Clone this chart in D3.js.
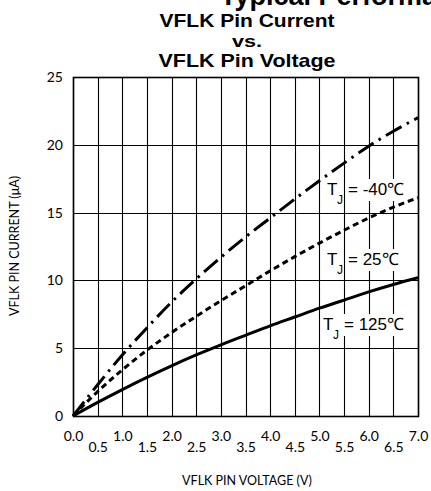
<!DOCTYPE html>
<html>
<head>
<meta charset="utf-8">
<script src="https://cdn.jsdelivr.net/npm/d3@7"></script>
<style>
html,body{margin:0;padding:0;background:#fff;}
svg{display:block;}
</style>
</head>
<body>
<svg id="chart" width="431" height="491"></svg>
<script>
// ---- data ----
const voltages = [0, 0.5, 1.0, 1.5, 2.0, 2.5, 3.0, 3.5, 4.0, 4.5, 5.0, 5.5, 6.0, 6.5, 7.0];
const currentM40 = [0, 2.3, 4.5, 6.5, 8.4, 10.1, 11.7, 13.2, 14.6, 16.0, 17.35, 18.65, 19.9, 21.0, 22.0];
const current25  = [0, 1.8, 3.4, 4.85, 6.15, 7.35, 8.5, 9.6, 10.7, 11.75, 12.75, 13.7, 14.6, 15.4, 16.1];
const current125 = [0, 1.0, 1.95, 2.85, 3.7, 4.5, 5.25, 5.95, 6.65, 7.3, 7.95, 8.55, 9.15, 9.7, 10.2];
const xTickLabels = ["0.0","0.5","1.0","1.5","2.0","2.5","3.0","3.5","4.0","4.5","5.0","5.5","6.0","6.5","7.0"];
const yTicks = [0, 5, 10, 15, 20, 25];
const seriesNames = ["-40℃", "25℃", "125℃"];

const svg = d3.select("#chart");
const x = d3.scaleLinear().domain([0, 7]).range([73, 418]);
const y = d3.scaleLinear().domain([0, 25]).range([416, 77]);

// titles
const titleFont = "Liberation Sans, Arial, sans-serif";
svg.append("text").attr("x", 220).attr("y", 5)
  .attr("font-family", titleFont).attr("font-weight", "bold")
  .attr("font-size", 27).text("Typical Performance Characteristics");
[["VFLK Pin Current", 27, 175, 18.5], ["vs.", 47, 30, 16], ["VFLK Pin Voltage", 67, 177, 18.5]].forEach(([t, yy, w, fs]) => {
  svg.append("text").attr("x", 247).attr("y", yy).attr("text-anchor", "middle")
    .attr("font-family", titleFont).attr("font-weight", "bold").attr("font-size", fs)
    .attr("textLength", w).attr("lengthAdjust", "spacingAndGlyphs").text(t);
});

// grid
const grid = svg.append("g");
grid.selectAll("line.v").data(voltages).join("line")
  .attr("x1", d => Math.round(x(d)) + 0.5).attr("x2", d => Math.round(x(d)) + 0.5)
  .attr("y1", y(25)).attr("y2", y(0))
  .attr("stroke", "#000").attr("stroke-width", 1.1);
grid.selectAll("line.h").data(yTicks).join("line")
  .attr("y1", d => Math.round(y(d)) + 0.5).attr("y2", d => Math.round(y(d)) + 0.5)
  .attr("x1", x(0)).attr("x2", x(7))
  .attr("stroke", "#000").attr("stroke-width", 1.1);
svg.append("rect").attr("x", Math.round(x(0)) + 0.5).attr("y", Math.round(y(25)) + 0.5)
  .attr("width", Math.round(x(7)) - Math.round(x(0))).attr("height", Math.round(y(0)) - Math.round(y(25)))
  .attr("fill", "none").attr("stroke", "#000").attr("stroke-width", 1.6);

// axes labels
const tickFont = "Lato, Carlito, 'Open Sans', sans-serif";
const xAxis = d3.axisBottom(x).tickValues(voltages).tickSize(0).tickFormat((d, i) => xTickLabels[i]);
const gx = svg.append("g").attr("transform", `translate(0,${y(0)})`).call(xAxis);
gx.select(".domain").remove();
gx.selectAll("text").attr("font-family", tickFont).attr("font-size", 14).attr("fill", "#000")
  .attr("dy", null)
  .attr("y", (d, i) => i % 2 === 0 ? 25 : 36);

const yAxis = d3.axisLeft(y).tickValues(yTicks).tickSize(0).tickPadding(10).tickFormat(d3.format("d"));
const gy = svg.append("g").attr("transform", `translate(${x(0)},0)`).call(yAxis);
gy.select(".domain").remove();
gy.selectAll("text").attr("font-family", tickFont).attr("font-size", 14).attr("fill", "#000");

svg.append("text").attr("transform", "translate(19,246) rotate(-90)").attr("text-anchor", "middle")
  .attr("font-family", tickFont).attr("font-size", 12.5).text("VFLK PIN CURRENT (μA)");
svg.append("text").attr("x", 247).attr("y", 485).attr("text-anchor", "middle")
  .attr("font-family", tickFont).attr("font-size", 12.5).text("VFLK PIN VOLTAGE (V)");

// curves
const line = d3.line().x(d => x(d[0])).y(d => y(d[1])).curve(d3.curveMonotoneX);
const series = [
  {vals: currentM40, dash: "18,6,2.5,6"},
  {vals: current25, dash: "6,4"},
  {vals: current125, dash: null}
];
series.forEach(s => {
  svg.append("path").datum(voltages.map((v, i) => [v, s.vals[i]]))
    .attr("d", line).attr("fill", "none").attr("stroke", "#000")
    .attr("stroke-width", 3).attr("stroke-dasharray", s.dash);
});

// series labels
const labelPos = [[327, 195], [327, 265], [323, 330]];
seriesNames.forEach((name, i) => {
  const [lx, ly] = labelPos[i];
  const g = svg.append("g");
  const rest = g.append("text").attr("x", lx + 21).attr("y", ly)
    .attr("font-family", titleFont).attr("font-size", 17).text("= " + name);
  const bb = rest.node().getBBox();
  g.insert("rect", "text").attr("x", bb.x - 1).attr("y", ly - 16).attr("width", bb.width + 2).attr("height", 22)
    .attr("fill", "#fff");
  g.append("text").attr("x", lx).attr("y", ly).attr("font-family", titleFont).attr("font-size", 17).text("T");
  g.append("text").attr("x", lx + 10).attr("y", ly + 9).attr("font-family", titleFont).attr("font-size", 12).text("J");
});
</script>
</body>
</html>
